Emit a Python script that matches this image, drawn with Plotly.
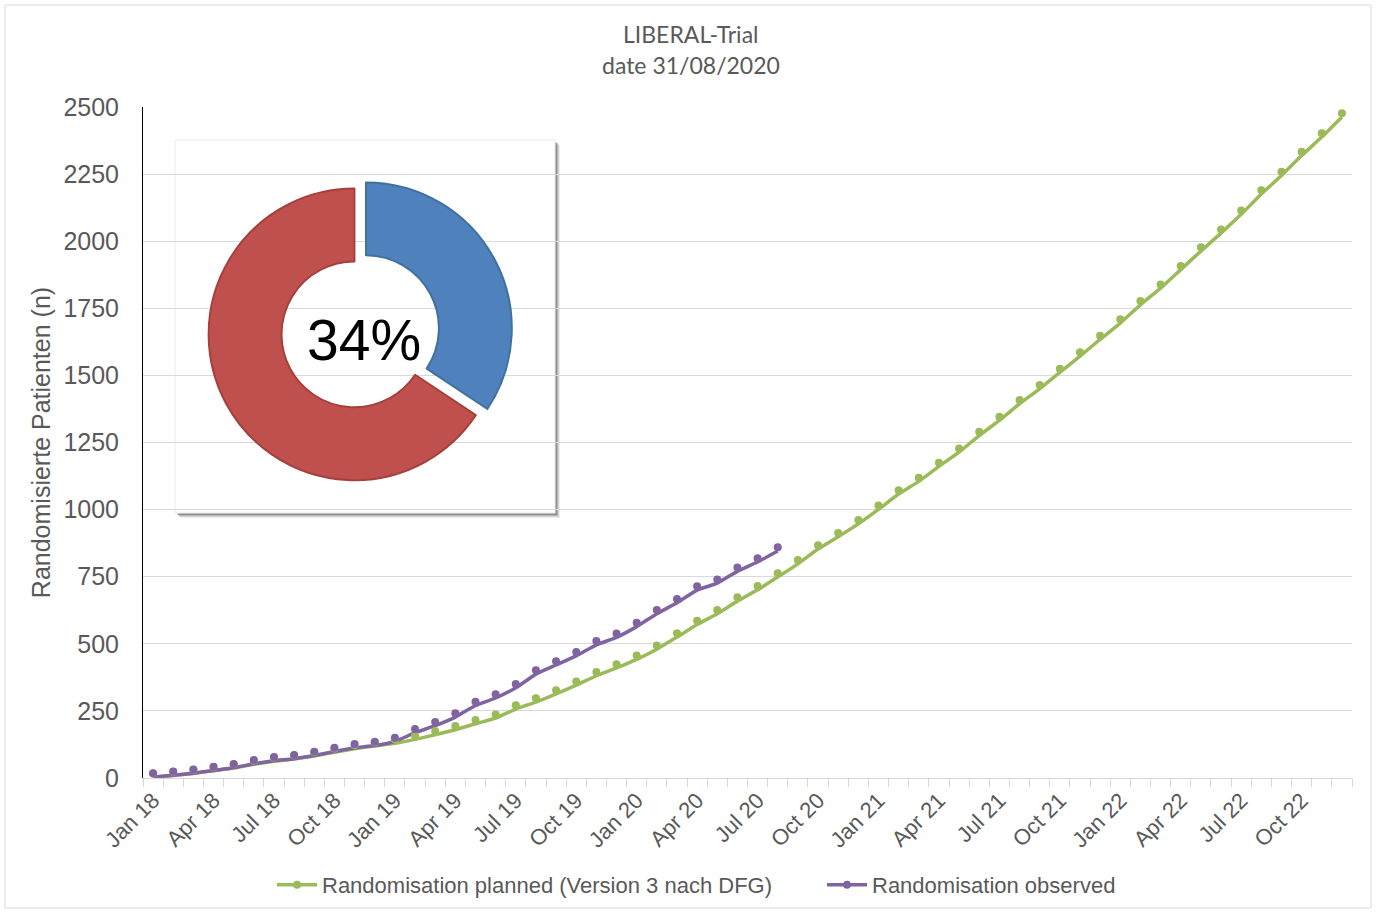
import plotly.graph_objects as go

# ---------------- data ----------------
years = ["18", "19", "20", "21", "22"]
month_names = ["Jan", "Feb", "Mar", "Apr", "May", "Jun",
               "Jul", "Aug", "Sep", "Oct", "Nov", "Dec"]
months = [f"{m} {y}" for y in years for m in month_names]
tick_labels = [lab if lab.split()[0] in ("Jan", "Apr", "Jul", "Oct") else "" for lab in months]

planned = [3, 9, 17, 27, 37, 51, 62, 71, 82, 96, 109, 119,
           129, 144, 161, 180, 202, 223, 257, 283, 313, 346, 381, 410,
           442, 480, 525, 572, 612, 659, 701, 749, 798, 853, 899, 947,
           1001, 1058, 1105, 1161, 1214, 1276, 1332, 1394, 1450, 1511, 1572, 1634,
           1695, 1763, 1825, 1894, 1963, 2030, 2100, 2176, 2245, 2319, 2388, 2463]

observed = [4, 10, 18, 28, 38, 53, 64, 72, 84, 99, 113, 121,
            136, 169, 195, 227, 270, 298, 336, 387, 421, 455, 496, 524,
            564, 612, 653, 700, 726, 770, 805, 846]

donut_labels = ["randomisiert", "offen"]
donut_values = [observed[-1], planned[-1] - observed[-1]]
pct_text = f"{round(100 * observed[-1] / planned[-1])}%"

title_lines = ["LIBERAL-Trial", "date 31/08/2020"]
name_planned = "Randomisation planned (Version 3 nach DFG)"
name_observed = "Randomisation observed"
y_title = "Randomisierte Patienten (n)"

# ---------------- style ----------------
GREEN = "#9bbb59"
PURPLE = "#8064a2"
TXT = "#595959"
GRID = "#d9d9d9"
AF = "Liberation Sans, Arial, sans-serif"
MARK_OFF = 14  # markers drawn slightly above the line (as in the original rendering)

W, H = 1376, 913
L, R, T, B = 143, 24, 107, 135
PW, PH = W - L - R, H - T - B


def px(x):
    return (x - L) / PW


def py(y):
    return (H - B - y) / PH


fig = go.Figure()

for vals, col, nm in [(planned, GREEN, name_planned), (observed, PURPLE, name_observed)]:
    xs = months[:len(vals)]
    fig.add_trace(go.Scatter(x=xs, y=vals, mode="lines", line=dict(color=col, width=3.5, shape="spline", smoothing=0.4),
                             showlegend=False, hoverinfo="skip"))
    fig.add_trace(go.Scatter(x=xs, y=vals, mode="markers", marker=dict(color=col, size=8),
                             yaxis="y2", showlegend=False))
    fig.add_trace(go.Scatter(x=[None], y=[None], mode="lines+markers", name=nm,
                             line=dict(color=col, width=3.5), marker=dict(color=col, size=8)))

# donut inset
CX, CY, HALF = 357, 333, 156
fig.add_trace(go.Pie(labels=donut_labels, values=donut_values, hole=0.5, sort=False,
                     direction="clockwise", rotation=0, pull=[0.07, 0.02],
                     marker=dict(colors=["#4f81bd", "#c0504d"], line=dict(color=["#41719c", "#a5403d"], width=2)),
                     textinfo="none", showlegend=False,
                     domain=dict(x=[px(CX - HALF), px(CX + HALF)], y=[py(CY + HALF), py(CY - HALF)])))

# inset box with soft shadow
shapes = []
for d, op in [(5, 0.10), (4, 0.15), (3, 0.25), (2, 0.35)]:
    shapes.append(dict(type="rect", xref="paper", yref="paper", layer="between",
                       x0=px(175 + d), x1=px(555 + d), y0=py(513 + d), y1=py(140 + d),
                       fillcolor=f"rgba(80,80,80,{op})", line=dict(width=0)))
shapes.append(dict(type="rect", xref="paper", yref="paper", layer="between",
                   x0=px(175), x1=px(555), y0=py(513), y1=py(140),
                   fillcolor="white", line=dict(color="#ececec", width=1)))
# outer chart border
shapes.append(dict(type="rect", xref="paper", yref="paper", layer="above",
                   x0=px(5), x1=px(1371), y0=py(908), y1=py(5),
                   fillcolor="rgba(0,0,0,0)", line=dict(color="#d9d9d9", width=1)))

TF = dict(family="Lato, Open Sans, sans-serif", size=23, color=TXT)
annotations = [
    dict(text=title_lines[0], x=px(691), y=py(34), xref="paper", yref="paper", showarrow=False,
         xanchor="center", yanchor="middle", font=TF),
    dict(text=title_lines[1], x=px(691), y=py(65), xref="paper", yref="paper", showarrow=False,
         xanchor="center", yanchor="middle", font=TF),
    dict(text=pct_text, x=px(364), y=py(340), xref="paper", yref="paper", showarrow=False,
         xanchor="center", yanchor="middle", font=dict(family=AF, size=57, color="black")),
]

fig.update_layout(
    width=W, height=H,
    margin=dict(l=L, r=R, t=T, b=B, autoexpand=False),
    paper_bgcolor="white", plot_bgcolor="white",
    font=dict(family=AF, color=TXT),
    shapes=shapes, annotations=annotations,
    xaxis=dict(type="category", categoryorder="array", categoryarray=months,
               range=[-0.5, len(months) - 0.5],
               tickmode="array", tickvals=months, ticktext=tick_labels,
               tickson="boundaries", ticks="outside", ticklen=8, tickcolor=GRID, tickwidth=1,
               tickangle=-45, tickfont=dict(size=22, color=TXT),
               showline=True, linecolor=GRID, linewidth=1, showgrid=False, zeroline=False),
    yaxis=dict(range=[0, 2500], dtick=250, showgrid=True, gridcolor=GRID, gridwidth=1,
               showline=True, linecolor="black", linewidth=1, zeroline=False,
               tickfont=dict(size=25, color=TXT), ticks="", ticklabelstandoff=18,
               title=dict(text=y_title, font=dict(size=25, color=TXT), standoff=5)),
    yaxis2=dict(overlaying="y", range=[-MARK_OFF, 2500 - MARK_OFF], visible=False),
    legend=dict(orientation="h", x=px(272), xanchor="left", y=py(885), yanchor="middle",
                font=dict(size=22, color=TXT), itemwidth=40, bgcolor="rgba(0,0,0,0)",
                entrywidth=495, entrywidthmode="pixels", tracegroupgap=0),
)

fig.write_html("out.html")
